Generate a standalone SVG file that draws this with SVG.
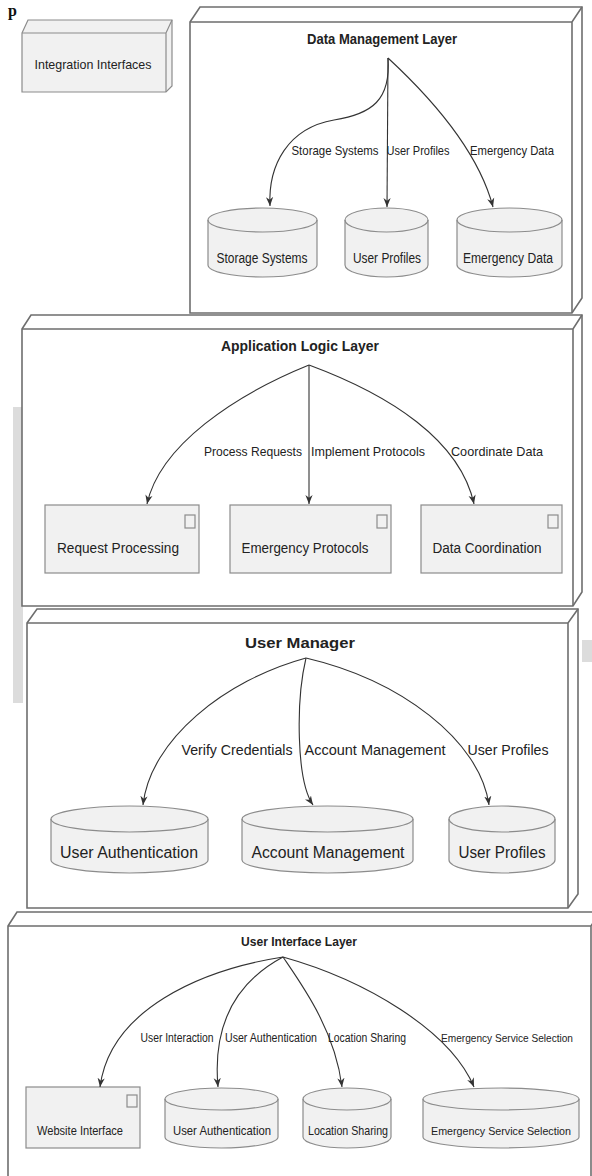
<svg xmlns="http://www.w3.org/2000/svg" width="592" height="1176" viewBox="0 0 592 1176">
<style>
.frame{fill:#ffffff;stroke:#6e6e6e;stroke-width:1.6}
.fl{fill:none;stroke:#6e6e6e;stroke-width:1.6}
.box{fill:#f1f1f1;stroke:#8c8c8c;stroke-width:1.2}
.bl{fill:none;stroke:#8c8c8c;stroke-width:1.2}
.t{font-family:"Liberation Sans",Arial,sans-serif;fill:#222;text-anchor:middle}
.b{font-weight:bold}
.c{fill:none;stroke:#333;stroke-width:1.1;marker-end:url(#ah)}
.art{fill:#dcdcdc}
</style>
<defs>
<marker id="ah" viewBox="0 0 10 10" refX="10" refY="5" markerWidth="9" markerHeight="9" markerUnits="userSpaceOnUse" orient="auto">
<path d="M0,1 L10,5 L0,9 L3,5 Z" fill="#333"/>
</marker>
</defs>
<rect width="592" height="1176" fill="#ffffff"/>
<text x="8" y="16" font-family="Liberation Serif,serif" font-weight="bold" font-size="16" fill="#111">p</text>
<rect class="art" x="13" y="407" width="10" height="296"/>
<rect class="art" x="582" y="640" width="10" height="22"/>

<g id="integration-interfaces">
<path class="box" d="M22,33 L28,20 L172,20 L172,86 L166,92 L22,92 Z"/>
<path class="bl" d="M22,33 L166,33 L172,20 M166,33 L166,92"/>
<text class="t" x="93" y="69" font-size="13" textLength="117" lengthAdjust="spacingAndGlyphs">Integration Interfaces</text>
</g>

<g id="data-management-layer">
<path class="frame" d="M190,22 L200,7 L582,7 L582,298 L572,313 L190,313 Z"/>
<path class="fl" d="M190,22 L572,22 L582,7 M572,22 L572,313"/>
<text class="t b" x="382" y="44" font-size="14" textLength="150" lengthAdjust="spacingAndGlyphs">Data Management Layer</text>
</g>
<g id="dm-storage-systems">
<path class="box" d="M208,220 A54.5,12 0 0 1 317,220 L317,265 A54.5,12 0 0 1 208,265 Z"/>
<path class="bl" d="M208,220 A54.5,12 0 0 0 317,220"/>
<text class="t" x="262" y="263" font-size="14" textLength="91" lengthAdjust="spacingAndGlyphs">Storage Systems</text>
</g>
<g id="dm-user-profiles">
<path class="box" d="M345,220 A41.5,12 0 0 1 428,220 L428,265 A41.5,12 0 0 1 345,265 Z"/>
<path class="bl" d="M345,220 A41.5,12 0 0 0 428,220"/>
<text class="t" x="387" y="263" font-size="14" textLength="68" lengthAdjust="spacingAndGlyphs">User Profiles</text>
</g>
<g id="dm-emergency-data">
<path class="box" d="M457,220 A52.5,12 0 0 1 562,220 L562,265 A52.5,12 0 0 1 457,265 Z"/>
<path class="bl" d="M457,220 A52.5,12 0 0 0 562,220"/>
<text class="t" x="508" y="263" font-size="14" textLength="90" lengthAdjust="spacingAndGlyphs">Emergency Data</text>
</g>

<g id="application-logic-layer">
<path class="frame" d="M22,329 L31,315 L582,315 L582,592 L573,606 L22,606 Z"/>
<path class="fl" d="M22,329 L573,329 L582,315 M573,329 L573,606"/>
<text class="t b" x="300" y="351" font-size="14" textLength="158" lengthAdjust="spacingAndGlyphs">Application Logic Layer</text>
</g>
<g id="al-request-processing">
<rect class="box" x="45" y="505" width="154" height="68"/>
<rect class="bl" x="185" y="515" width="10" height="13"/>
<text class="t" x="118" y="553" font-size="14" textLength="122" lengthAdjust="spacingAndGlyphs">Request Processing</text>
</g>
<g id="al-emergency-protocols">
<rect class="box" x="230" y="505" width="161" height="68"/>
<rect class="bl" x="377" y="515" width="10" height="13"/>
<text class="t" x="305" y="553" font-size="14" textLength="127" lengthAdjust="spacingAndGlyphs">Emergency Protocols</text>
</g>
<g id="al-data-coordination">
<rect class="box" x="421" y="505" width="141" height="68"/>
<rect class="bl" x="548" y="515" width="10" height="13"/>
<text class="t" x="487" y="553" font-size="14" textLength="109" lengthAdjust="spacingAndGlyphs">Data Coordination</text>
</g>

<g id="user-manager">
<path class="frame" d="M27,623 L37,609 L578,609 L578,894 L568,908 L27,908 Z"/>
<path class="fl" d="M27,623 L568,623 L578,609 M568,623 L568,908"/>
<text class="t b" x="300" y="648" font-size="15" textLength="110" lengthAdjust="spacingAndGlyphs">User Manager</text>
</g>
<g id="um-user-authentication">
<path class="box" d="M51,819 A78.5,13 0 0 1 208,819 L208,860 A78.5,13 0 0 1 51,860 Z"/>
<path class="bl" d="M51,819 A78.5,13 0 0 0 208,819"/>
<text class="t" x="129" y="858" font-size="16" textLength="138" lengthAdjust="spacingAndGlyphs">User Authentication</text>
</g>
<g id="um-account-management">
<path class="box" d="M242,819 A85.5,13 0 0 1 413,819 L413,860 A85.5,13 0 0 1 242,860 Z"/>
<path class="bl" d="M242,819 A85.5,13 0 0 0 413,819"/>
<text class="t" x="328" y="858" font-size="16" textLength="153" lengthAdjust="spacingAndGlyphs">Account Management</text>
</g>
<g id="um-user-profiles">
<path class="box" d="M449,819 A53,13 0 0 1 555,819 L555,860 A53,13 0 0 1 449,860 Z"/>
<path class="bl" d="M449,819 A53,13 0 0 0 555,819"/>
<text class="t" x="502" y="858" font-size="16" textLength="87" lengthAdjust="spacingAndGlyphs">User Profiles</text>
</g>

<g id="user-interface-layer">
<path class="frame" d="M8,926 L17,912 L600,912 L600,1190 L8,1190 Z"/>
<path class="fl" d="M8,926 L591,926 L600,912 M591,926 L591,1190"/>
<text class="t b" x="299" y="946" font-size="12" textLength="116" lengthAdjust="spacingAndGlyphs">User Interface Layer</text>
</g>
<g id="ui-website-interface">
<rect class="box" x="26" y="1087" width="114" height="61"/>
<rect class="bl" x="127" y="1095" width="10" height="12"/>
<text class="t" x="80" y="1135" font-size="12" textLength="86" lengthAdjust="spacingAndGlyphs">Website Interface</text>
</g>
<g id="ui-user-authentication">
<path class="box" d="M165,1099 A56.5,11 0 0 1 278,1099 L278,1137 A56.5,11 0 0 1 165,1137 Z"/>
<path class="bl" d="M165,1099 A56.5,11 0 0 0 278,1099"/>
<text class="t" x="222" y="1135" font-size="13" textLength="98" lengthAdjust="spacingAndGlyphs">User Authentication</text>
</g>
<g id="ui-location-sharing">
<path class="box" d="M303,1099 A44,11 0 0 1 391,1099 L391,1137 A44,11 0 0 1 303,1137 Z"/>
<path class="bl" d="M303,1099 A44,11 0 0 0 391,1099"/>
<text class="t" x="348" y="1135" font-size="13" textLength="80" lengthAdjust="spacingAndGlyphs">Location Sharing</text>
</g>
<g id="ui-emergency-service-selection">
<path class="box" d="M423,1099 A78,11 0 0 1 579,1099 L579,1137 A78,11 0 0 1 423,1137 Z"/>
<path class="bl" d="M423,1099 A78,11 0 0 0 579,1099"/>
<text class="t" x="501" y="1135" font-size="11.5" textLength="140" lengthAdjust="spacingAndGlyphs">Emergency Service Selection</text>
</g>

<g id="connectors">
<path class="c" d="M388,58 C391,100 372,114 334,120 C288,128 268,165 270,206"/>
<path class="c" d="M388,58 L387,207"/>
<path class="c" d="M388,58 C428,95 478,150 493,207"/>
<path class="c" d="M309,365 C235,395 160,445 147,504"/>
<path class="c" d="M309,365 L309,504"/>
<path class="c" d="M309,365 C390,395 460,440 474,504"/>
<path class="c" d="M306,658 C225,680 150,740 143,805"/>
<path class="c" d="M306,658 C296,700 296,780 313,805"/>
<path class="c" d="M306,658 C400,680 480,740 489,805"/>
<path class="c" d="M283,957 C200,970 110,1010 100,1087"/>
<path class="c" d="M283,957 C240,980 212,1020 218,1087"/>
<path class="c" d="M283,957 C302,985 335,1030 342,1087"/>
<path class="c" d="M283,957 C365,980 450,1030 474,1087"/>
<text class="t" x="335" y="155" font-size="13" textLength="87" lengthAdjust="spacingAndGlyphs">Storage Systems</text>
<text class="t" x="418" y="155" font-size="13" textLength="63" lengthAdjust="spacingAndGlyphs">User Profiles</text>
<text class="t" x="512" y="155" font-size="13" textLength="84" lengthAdjust="spacingAndGlyphs">Emergency Data</text>
<text class="t" x="253" y="456" font-size="13" textLength="98" lengthAdjust="spacingAndGlyphs">Process Requests</text>
<text class="t" x="368" y="456" font-size="13" textLength="114" lengthAdjust="spacingAndGlyphs">Implement Protocols</text>
<text class="t" x="497" y="456" font-size="13" textLength="92" lengthAdjust="spacingAndGlyphs">Coordinate Data</text>
<text class="t" x="237" y="755" font-size="14" textLength="111" lengthAdjust="spacingAndGlyphs">Verify Credentials</text>
<text class="t" x="375" y="755" font-size="14" textLength="141" lengthAdjust="spacingAndGlyphs">Account Management</text>
<text class="t" x="508" y="755" font-size="14" textLength="81" lengthAdjust="spacingAndGlyphs">User Profiles</text>
<text class="t" x="177" y="1042" font-size="12" textLength="73" lengthAdjust="spacingAndGlyphs">User Interaction</text>
<text class="t" x="271" y="1042" font-size="12" textLength="92" lengthAdjust="spacingAndGlyphs">User Authentication</text>
<text class="t" x="367" y="1042" font-size="12" textLength="78" lengthAdjust="spacingAndGlyphs">Location Sharing</text>
<text class="t" x="507" y="1042" font-size="11" textLength="132" lengthAdjust="spacingAndGlyphs">Emergency Service Selection</text>
</g>
</svg>
